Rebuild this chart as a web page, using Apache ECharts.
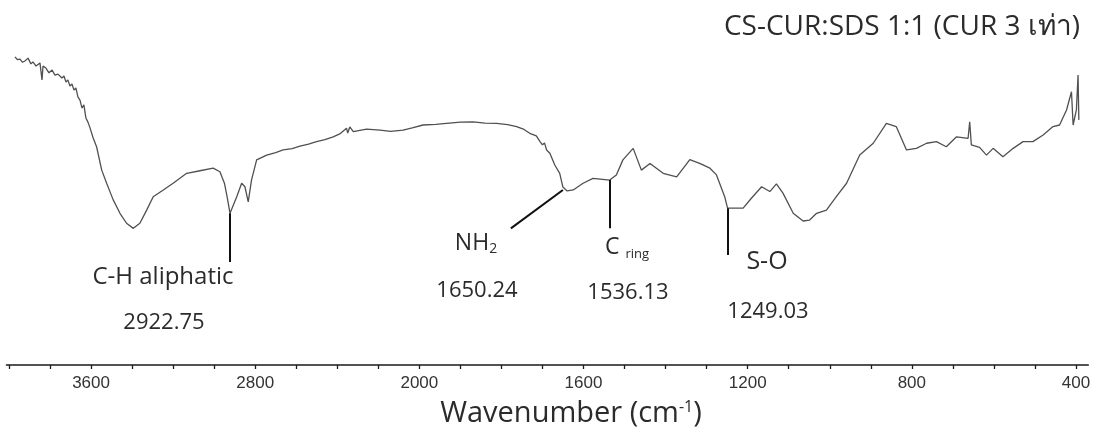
<!DOCTYPE html>
<html>
<head>
<meta charset="utf-8">
<script src="https://cdn.jsdelivr.net/npm/echarts@6/dist/echarts.min.js"></script>
<style>
  html, body { margin: 0; padding: 0; background: #fff; }
  #chart { width: 1100px; height: 439px; }
</style>
</head>
<body>
<div id="chart"></div>
<script>
// FTIR spectrum: wavenumber (cm-1) and transmittance (arbitrary %T)
const wavenumber = [
  3971, 3958, 3946, 3934, 3922, 3907, 3893, 3883, 3868, 3849, 3839, 3834, 3820, 3805, 3790, 3776,
  3761, 3742, 3732, 3722, 3713, 3703, 3693, 3683, 3674, 3664, 3654, 3644, 3635, 3625,
  3615, 3605, 3590, 3573, 3548, 3524, 3492, 3459, 3427, 3394, 3362, 3329, 3297, 3248, 3200,
  3134, 3069, 3005, 2972, 2950, 2937, 2922.75, 2890, 2866, 2850, 2834, 2818, 2793, 2744,
  2700, 2664, 2620, 2582, 2540, 2501, 2460, 2420, 2388, 2355, 2349, 2339, 2322, 2290, 2257, 2192,
  2140, 2079, 2030, 1991, 1960, 1934, 1900, 1869, 1840, 1812, 1785, 1763, 1745, 1731, 1715, 1706,
  1700, 1695, 1690, 1682, 1670, 1658, 1650.24, 1640, 1625, 1610, 1601, 1577, 1536.13, 1520, 1504,
  1479, 1459, 1438, 1406, 1373, 1341, 1317, 1292, 1276, 1256, 1249.03, 1211, 1191, 1166,
  1146, 1130, 1114, 1089, 1065, 1049, 1032, 1008, 984, 959, 927, 894, 862, 838,
  813, 789, 764, 740, 716, 691, 663, 659, 655, 635, 618, 602, 578, 553,
  529, 505, 480, 456, 440, 423, 411, 407, 399, 395, 393
];
const transmittance = [
  96.3, 95.4, 95.6, 94.6, 95.0, 95.9, 94.1, 94.7, 93.4, 94.4, 89.1, 93.4, 92.8, 91.3, 92.2, 90.6,
  90.9, 89.7, 90.3, 88.4, 89.1, 87.2, 87.8, 85.9, 86.6, 83.8, 82.8, 80.3, 81.3, 77.2,
  75.9, 74.1, 71.0, 68.2, 60.9, 56.8, 51.6, 47.4, 44.3, 42.7, 44.3, 48.4, 52.6, 54.7, 56.8,
  59.9, 60.7, 61.5, 60.4, 56.8, 52.6, 47.4, 52.6, 56.8, 55.7, 51.0, 57.8, 64.1, 65.6,
  66.4, 67.2, 67.6, 68.4, 69.0, 69.8, 70.4, 71.3, 72.2, 74.0, 72.5, 74.4, 72.9, 73.3, 73.7, 73.4,
  73.0, 73.4, 74.2, 75.0, 75.2, 75.5, 75.9, 76.0, 75.6, 75.5, 75.1, 74.5, 73.6, 72.4, 71.6, 69.8,
  68.8, 69.4, 67.2, 66.2, 62.5, 59.9, 55.6, 54.4, 54.7, 56.0, 56.8, 58.3, 57.8, 59.4, 64.1,
  67.7, 60.9, 63.0, 59.9, 58.8, 64.2, 63.0, 61.5, 59.4, 52.6, 49.0, 49.0, 52.1, 55.7,
  54.2, 56.6, 53.7, 47.4, 45.0, 45.3, 47.4, 48.4, 52.6, 56.8, 65.6, 69.3, 75.5, 74.5,
  67.2, 67.7, 69.3, 69.8, 68.2, 71.3, 70.8, 76.0, 68.8, 68.0, 65.6, 67.7, 65.1, 67.7,
  69.8, 69.8, 71.9, 74.5, 75.0, 79.7, 85.4, 75.0, 79.7, 90.6, 76.6
];

// Axis ticks: 200 cm-1 steps above 2000, 100 cm-1 steps below (scale doubles at 2000)
const tickWavenumbers = [4000, 3800, 3600, 3400, 3200, 3000, 2800, 2600, 2400, 2200, 2000,
  1900, 1800, 1700, 1600, 1500, 1400, 1300, 1200, 1100, 1000, 900, 800, 700, 600, 500, 400];
const labelWavenumbers = [3600, 2800, 2000, 1600, 1200, 800, 400];

// Assigned peaks
const peakNames = ['C-H aliphatic', 'NH2', 'C ring', 'S-O'];
const peakWavenumbers = [2922.75, 1650.24, 1536.13, 1249.03];
const leaderStartT = [47.4, 54.7, 57.8, 49.0];
const leaderEndWavenumbers = [2922.75, 1777, 1536.13, 1249.03];
const leaderEndT = [32.2, 42.7, 42.7, 34.4];

const titleText = 'CS-CUR:SDS 1:1 (CUR 3 เท่า)';

// Piecewise wavenumber scale -> axis units (one unit per tick)
function toAxis(w) { return w >= 2000 ? (4000 - w) / 200 : 10 + (2000 - w) / 100; }
function fromAxis(t) { return t <= 10 ? 4000 - 200 * t : 2000 - 100 * (t - 10); }

const seriesData = wavenumber.map((w, i) => [toAxis(w), transmittance[i]]);
const leaderLines = peakWavenumbers.map((w, i) => [
  { coord: [toAxis(w), leaderStartT[i]] },
  { coord: [toAxis(leaderEndWavenumbers[i]), leaderEndT[i]] }
]);

const textFont = "'Open Sans', 'Noto Sans', sans-serif";
const textColor = '#2b2b2b';
const nameFont = "23px " + textFont;
const valueFont = "22px " + textFont;

function label(x, y, text, font) {
  return { type: 'text', x: x, y: y,
    style: { text: text, font: font, fill: textColor, align: 'center', verticalAlign: 'middle' } };
}

const chart = echarts.init(document.getElementById('chart'), null, { renderer: 'canvas' });

chart.setOption({
  animation: false,
  backgroundColor: '#ffffff',
  grid: { left: 6.5, right: 11.7, top: 45, bottom: 74, containLabel: false },
  xAxis: {
    type: 'value',
    min: -0.06,
    max: 26.3,
    splitLine: { show: false },
    axisLine: { show: true, lineStyle: { color: '#1a1a1a', width: 1.6 } },
    axisTick: {
      show: true, inside: false, length: 4,
      customValues: tickWavenumbers.map(toAxis),
      lineStyle: { color: '#1a1a1a', width: 1.3 }
    },
    axisLabel: {
      show: true, margin: 10,
      customValues: labelWavenumbers.map(toAxis),
      formatter: v => String(Math.round(fromAxis(v))),
      fontFamily: "'Liberation Sans', Arial, sans-serif",
      fontSize: 17, color: '#333'
    }
  },
  yAxis: { type: 'value', min: 0, max: 100, show: false },
  series: [{
    type: 'line',
    data: seriesData,
    showSymbol: false,
    smooth: false,
    lineStyle: { color: '#505050', width: 1.3 },
    markLine: {
      silent: true,
      symbol: ['none', 'none'],
      label: { show: false },
      lineStyle: { color: '#111', width: 2, type: 'solid' },
      data: leaderLines
    }
  }],
  graphic: [
    { type: 'text', x: 1080, y: 27,
      style: { text: titleText, font: "28px " + textFont, fill: textColor, align: 'right', verticalAlign: 'middle' } },
    label(163, 277, peakNames[0], "24px " + textFont),
    label(164, 323, peakWavenumbers[0].toFixed(2), valueFont),
    { type: 'text', x: 476, y: 243,
      style: {
        text: '{m|NH}{s|2}', align: 'center', verticalAlign: 'middle',
        rich: {
          m: { font: nameFont, fill: textColor, color: textColor },
          s: { font: "14px " + textFont, fill: textColor, color: textColor, padding: [12, 0, 0, 0] }
        }
      } },
    label(477, 291, peakWavenumbers[1].toFixed(2), valueFont),
    { type: 'text', x: 627, y: 247,
      style: {
        text: '{m|C }{s|ring}', align: 'center', verticalAlign: 'middle',
        rich: {
          m: { font: nameFont, fill: textColor, color: textColor },
          s: { font: "13px " + textFont, fill: textColor, color: textColor, padding: [14, 0, 0, 0] }
        }
      } },
    label(628, 293, peakWavenumbers[2].toFixed(2), valueFont),
    label(767, 262, peakNames[3], "25px " + textFont),
    label(768, 312, peakWavenumbers[3].toFixed(2), valueFont),
    { type: 'text', x: 571, y: 414,
      style: {
        text: '{m|Wavenumber (cm}{p|-1}{m|)}', align: 'center', verticalAlign: 'middle',
        rich: {
          m: { font: "29px " + textFont, fill: textColor, color: textColor },
          p: { font: "16px " + textFont, fill: textColor, color: textColor, padding: [0, 0, 14, 0] }
        }
      } }
  ]
});
</script>
</body>
</html>
